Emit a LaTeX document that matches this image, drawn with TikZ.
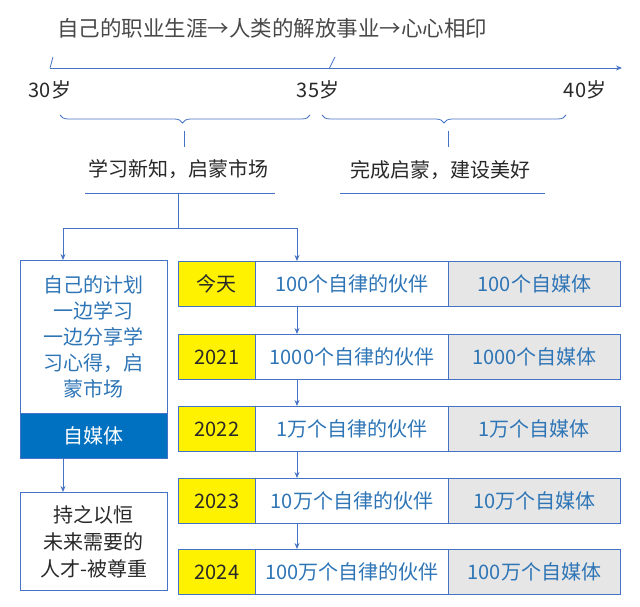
\documentclass[tikz,border=0pt]{standalone}
\usepackage{fontspec}
\setmainfont{Noto Sans CJK SC}
\usetikzlibrary{arrows.meta,decorations.pathreplacing}
\definecolor{ln}{RGB}{68,114,196}
\definecolor{tb}{RGB}{46,117,182}
\definecolor{db}{RGB}{0,112,192}
\definecolor{gr}{RGB}{230,230,230}
\definecolor{tx}{RGB}{40,40,40}
\tikzset{
 conn/.style={ln,line width=0.8pt},
 arr/.style={conn,-{Stealth[length=6pt,width=5pt]}},
 cell/.style={draw=ln,line width=0.8pt,minimum height=45pt,inner sep=0pt,anchor=north west,font=\fontsize{20}{22}\selectfont,text=tb},
 lbl/.style={font=\fontsize{20}{22}\selectfont,text=tx,inner sep=0pt},
}
\begin{document}
\begin{tikzpicture}[x=1pt,y=-1pt]
\useasboundingbox (0,0) rectangle (640,607);
\node[lbl,font=\fontsize{21.5}{24}\selectfont,text=tx!85] (title) at (272,28) {自己的职业生涯→人类的解放事业→心心相印};
\coordinate (a0) at (50,68); \coordinate (a1) at (622,68);
\draw[arr] (a0) -- (a1);
\draw[conn] (50,68) -- (53,57);
\draw[conn] (329,69) -- (335,57);
\node[lbl] (t30) at (50,90) {30岁};
\node[lbl] (t35) at (318,90) {35岁};
\node[lbl] (t40) at (585,90) {40岁};
\draw[conn,decorate,decoration={brace,mirror,amplitude=8pt,aspect=0.49}] (60,115) -- (310,115);
\draw[conn,decorate,decoration={brace,mirror,amplitude=8pt,aspect=0.5}] (322,115) -- (566,115);
\draw[conn] (184,131) -- (184,147);
\draw[conn] (448,131) -- (448,147);
\node[lbl] (g1) at (178,169) {学习新知，启蒙市场};
\node[lbl] (g2) at (440,170) {完成启蒙，建设美好};
\draw[conn] (85,193) -- (275,193);
\draw[conn] (340,193) -- (545,193);
\coordinate (s) at (178,193); \coordinate (sj) at (178,228);
\coordinate (sl) at (63,228); \coordinate (sr) at (297,228);
\draw[conn] (s) -- (sj); \draw[conn] (sl) -- (sr);
\node[draw=ln,line width=0.8pt,minimum width=147pt,minimum height=153pt,anchor=north west,inner sep=0pt] (plan) at (20,260) {};
\node[text=tb,font=\fontsize{20}{26}\selectfont,align=center,anchor=north] at (93.5,272) {自己的计划\\一边学习\\一边分享学\\习心得，启\\蒙市场};
\node[draw=ln,fill=db,line width=0.8pt,minimum width=147pt,minimum height=45pt,anchor=north west,inner sep=0pt,text=white,font=\fontsize{20}{22}\selectfont] (zmt) at (20,413) {自媒体};
\node[draw=ln,line width=0.8pt,minimum width=147pt,minimum height=98pt,anchor=north west,inner sep=0pt,align=center,text=tx,font=\fontsize{20}{27}\selectfont] (keep) at (20,492) {持之以恒\\未来需要的\\人才-被尊重};
\draw[arr] (sl) -- (plan.north -| sl);
\draw[arr] (zmt.south -| sl) -- (keep.north -| sl);
\foreach \i/\y/\yr/\p/\m in {0/261/今天/100/100,1/334/2021/1000/1000,2/406/2022/1万/1万,3/478/2023/10万/10万,4/549/2024/100万/100万}{
 \node[cell,fill=yellow,minimum width=77pt,text=tx] (y\i) at (178,\y) {\yr};
 \node[cell,minimum width=193pt] (p\i) at (255,\y) {\p 个自律的伙伴};
 \node[cell,fill=gr,minimum width=172pt] (m\i) at (448,\y) {\m 个自媒体};
}
\draw[arr] (sr) -- (p0.north west -| sr);
\foreach \a/\b in {0/1,1/2,2/3,3/4}{
 \draw[arr] (p\a.south west -| sr) -- (p\b.north west -| sr);
}
\end{tikzpicture}
\end{document}
